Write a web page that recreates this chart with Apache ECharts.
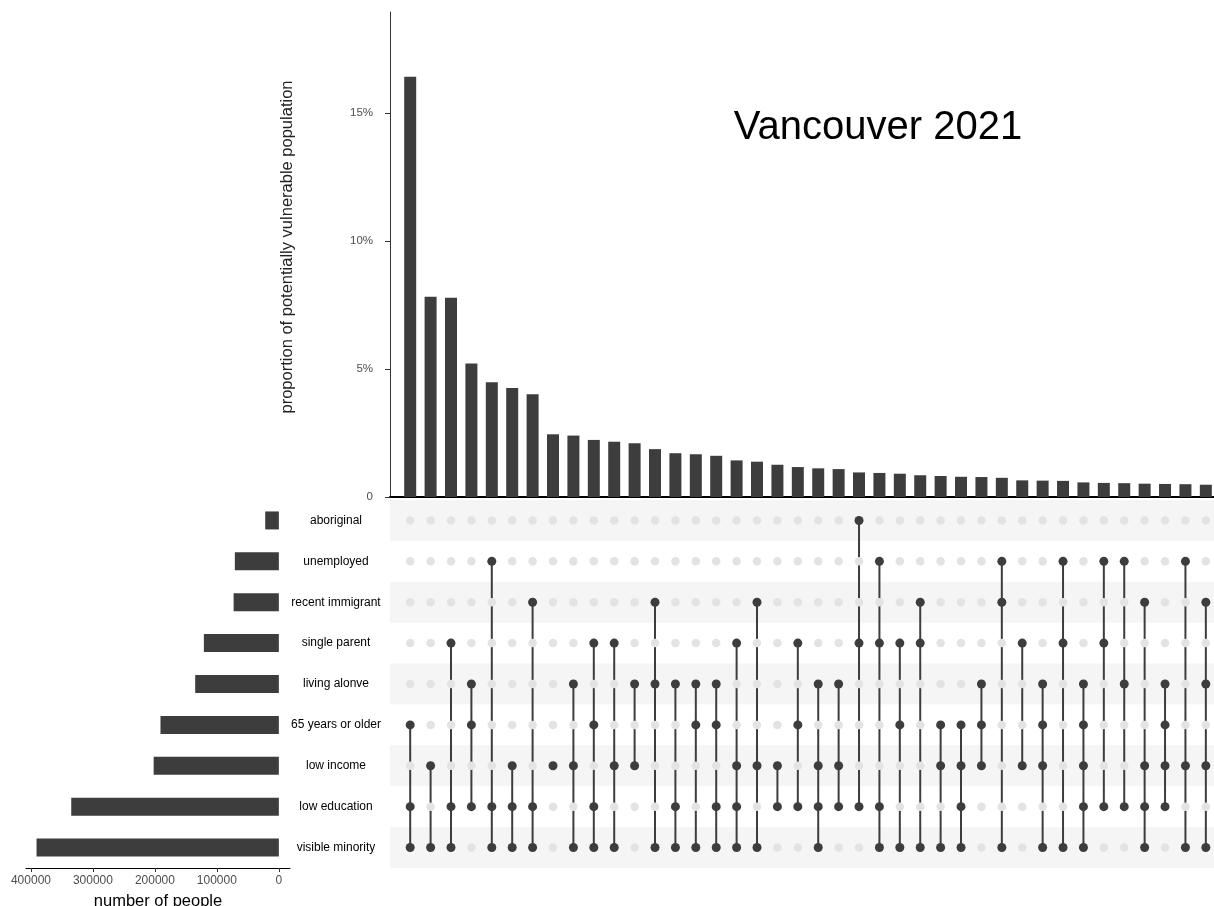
<!DOCTYPE html>
<html>
<head>
<meta charset="utf-8">
<script src="https://cdn.jsdelivr.net/npm/echarts@6/dist/echarts.min.js"></script>
<style>
  html, body { margin: 0; padding: 0; background: #fff; }
  #chart { width: 1214px; height: 906px; }
</style>
</head>
<body>
<div id="chart"></div>
<script>
// sets, top to bottom as in the matrix
const sets = ['aboriginal', 'unemployed', 'recent immigrant', 'single parent', 'living alonve',
  '65 years or older', 'low income', 'low education', 'visible minority']
const setSizes = [22000, 71000, 73000, 121000, 135000, 191000, 202000, 335000, 391000]

// intersection share (%) of potentially vulnerable population
const proportions = [16.42, 7.82, 7.79, 5.22, 4.48, 4.26, 4.01, 2.45, 2.40, 2.23,
  2.16, 2.10, 1.87, 1.71, 1.67, 1.61, 1.43, 1.38, 1.26, 1.17,
  1.12, 1.09, 0.96, 0.94, 0.91, 0.85, 0.82, 0.79, 0.78, 0.75,
  0.65, 0.64, 0.63, 0.57, 0.55, 0.54, 0.52, 0.51, 0.50, 0.48]

// member sets of each intersection (indexes into sets)
const combos = [
  [5, 7, 8], [6, 8], [3, 7, 8], [4, 5, 7], [1, 7, 8], [6, 7, 8], [2, 7, 8], [6], [4, 6, 8], [3, 5, 7, 8],
  [3, 6, 8], [4, 6], [2, 4, 8], [4, 7, 8], [4, 5, 8], [4, 5, 7, 8], [3, 6, 7, 8], [2, 6, 8], [6, 7], [3, 5, 7],
  [4, 6, 7, 8], [4, 6, 7], [0, 3, 7], [1, 3, 7, 8], [3, 5, 8], [2, 3, 8], [5, 6, 8], [5, 6, 7, 8], [4, 5, 6], [1, 2, 8],
  [3, 6], [4, 5, 6, 8], [1, 3, 8], [4, 5, 6, 7, 8], [1, 3, 7], [1, 4, 7], [2, 6, 7, 8], [4, 5, 6, 7], [1, 6, 8], [2, 4, 6, 8]
]

const yTicks = [0, 5, 10, 15]
const sizeTicks = [0, 100000, 200000, 300000, 400000]

const dark = '#3d3d3d'
const axisText = '#4d4d4d'

let barData = proportions.map((v, i) => [i, v])
let emptyDots = [], fullDots = [], links = []
combos.forEach((c, i) => {
  for (let r = 0; r < sets.length; r++) {
    if (c.indexOf(r) < 0) emptyDots.push([i, r])
    else fullDots.push([i, r])
  }
  links.push([i, Math.min(...c), Math.max(...c)])
})

let chart = echarts.init(document.getElementById('chart'))
chart.setOption({
  animation: false,
  graphic: [
    {
      type: 'text',
      x: 878,
      y: 128,
      style: {
        text: 'Vancouver 2021',
        font: '40px "Liberation Sans", Arial, sans-serif',
        fill: '#000',
        textAlign: 'center',
        textVerticalAlign: 'middle'
      }
    },
    {
      type: 'text',
      x: 287,
      y: 247,
      rotation: Math.PI / 2,
      style: {
        text: 'proportion of potentially vulnerable population',
        font: '16.5px "Liberation Sans", Arial, sans-serif',
        fill: '#222',
        textAlign: 'center',
        textVerticalAlign: 'middle'
      }
    }
  ],
  grid: [
    { left: 390, right: 0, top: 12, height: 485, outerBoundsMode: 'none' },
    { left: 390, right: 0, top: 500, height: 368, outerBoundsMode: 'none' },
    { left: 26, width: 264, top: 500, height: 368, outerBoundsMode: 'none' }
  ],
  xAxis: [
    {
      gridIndex: 0, type: 'value', min: -0.99, max: 39.4,
      axisLine: { show: true, onZero: false, lineStyle: { color: '#000', width: 2 } },
      axisTick: { show: false }, axisLabel: { show: false }, splitLine: { show: false }
    },
    {
      gridIndex: 1, type: 'value', min: -0.99, max: 39.4, show: false,
      splitLine: { show: false }
    },
    {
      gridIndex: 2, type: 'value', min: -18000, max: 408000, inverse: true,
      name: 'number of people', nameLocation: 'middle', nameGap: 25,
      nameTextStyle: { fontSize: 16.5, color: '#000', fontFamily: 'Liberation Sans' },
      axisLine: { show: true, onZero: false, lineStyle: { color: '#000', width: 1 } },
      axisTick: { show: true, length: 4, lineStyle: { color: '#333' }, customValues: sizeTicks },
      axisLabel: {
        customValues: sizeTicks, margin: 7, fontSize: 12, color: axisText,
        fontFamily: 'Liberation Sans',
        formatter: v => String(v)
      },
      splitLine: { show: false }
    }
  ],
  yAxis: [
    {
      gridIndex: 0, type: 'value', min: 0, max: 18.95,
      axisLine: { show: true, onZero: false, lineStyle: { color: '#333', width: 1 } },
      axisTick: { show: true, length: 5, lineStyle: { color: '#333' }, customValues: yTicks },
      axisLabel: {
        customValues: yTicks, margin: 17, fontSize: 11.5, color: axisText,
        fontFamily: 'Liberation Sans',
        formatter: v => v === 0 ? '0' : v + '%'
      },
      splitLine: { show: false }
    },
    {
      gridIndex: 1, type: 'category', data: sets, inverse: true,
      axisLine: { show: false }, axisTick: { show: false },
      axisLabel: {
        align: 'center', margin: 54, fontSize: 12, color: '#000',
        fontFamily: 'Liberation Sans'
      },
      splitArea: { show: true, areaStyle: { color: ['#f5f5f5', '#ffffff'] } }
    },
    {
      gridIndex: 2, type: 'category', data: sets, inverse: true, show: false
    }
  ],
  series: [
    {
      type: 'bar', xAxisIndex: 0, yAxisIndex: 0, data: barData,
      barWidth: 12, itemStyle: { color: dark }
    },
    {
      type: 'scatter', xAxisIndex: 1, yAxisIndex: 1, data: emptyDots,
      symbolSize: 8.5, itemStyle: { color: '#e3e3e3', opacity: 1 }
    },
    {
      type: 'custom', xAxisIndex: 1, yAxisIndex: 1, data: links,
      renderItem(params, api) {
        let a = api.coord([api.value(0), api.value(1)])
        let b = api.coord([api.value(0), api.value(2)])
        return {
          type: 'line',
          shape: { x1: a[0], y1: a[1], x2: b[0], y2: b[1] },
          style: { stroke: dark, lineWidth: 2 }
        }
      }
    },
    {
      type: 'scatter', xAxisIndex: 1, yAxisIndex: 1, data: fullDots,
      symbolSize: 9, itemStyle: { color: dark, opacity: 1 }, z: 5
    },
    {
      type: 'bar', xAxisIndex: 2, yAxisIndex: 2, data: setSizes,
      barWidth: 18, itemStyle: { color: dark }
    }
  ]
})
</script>
</body>
</html>
